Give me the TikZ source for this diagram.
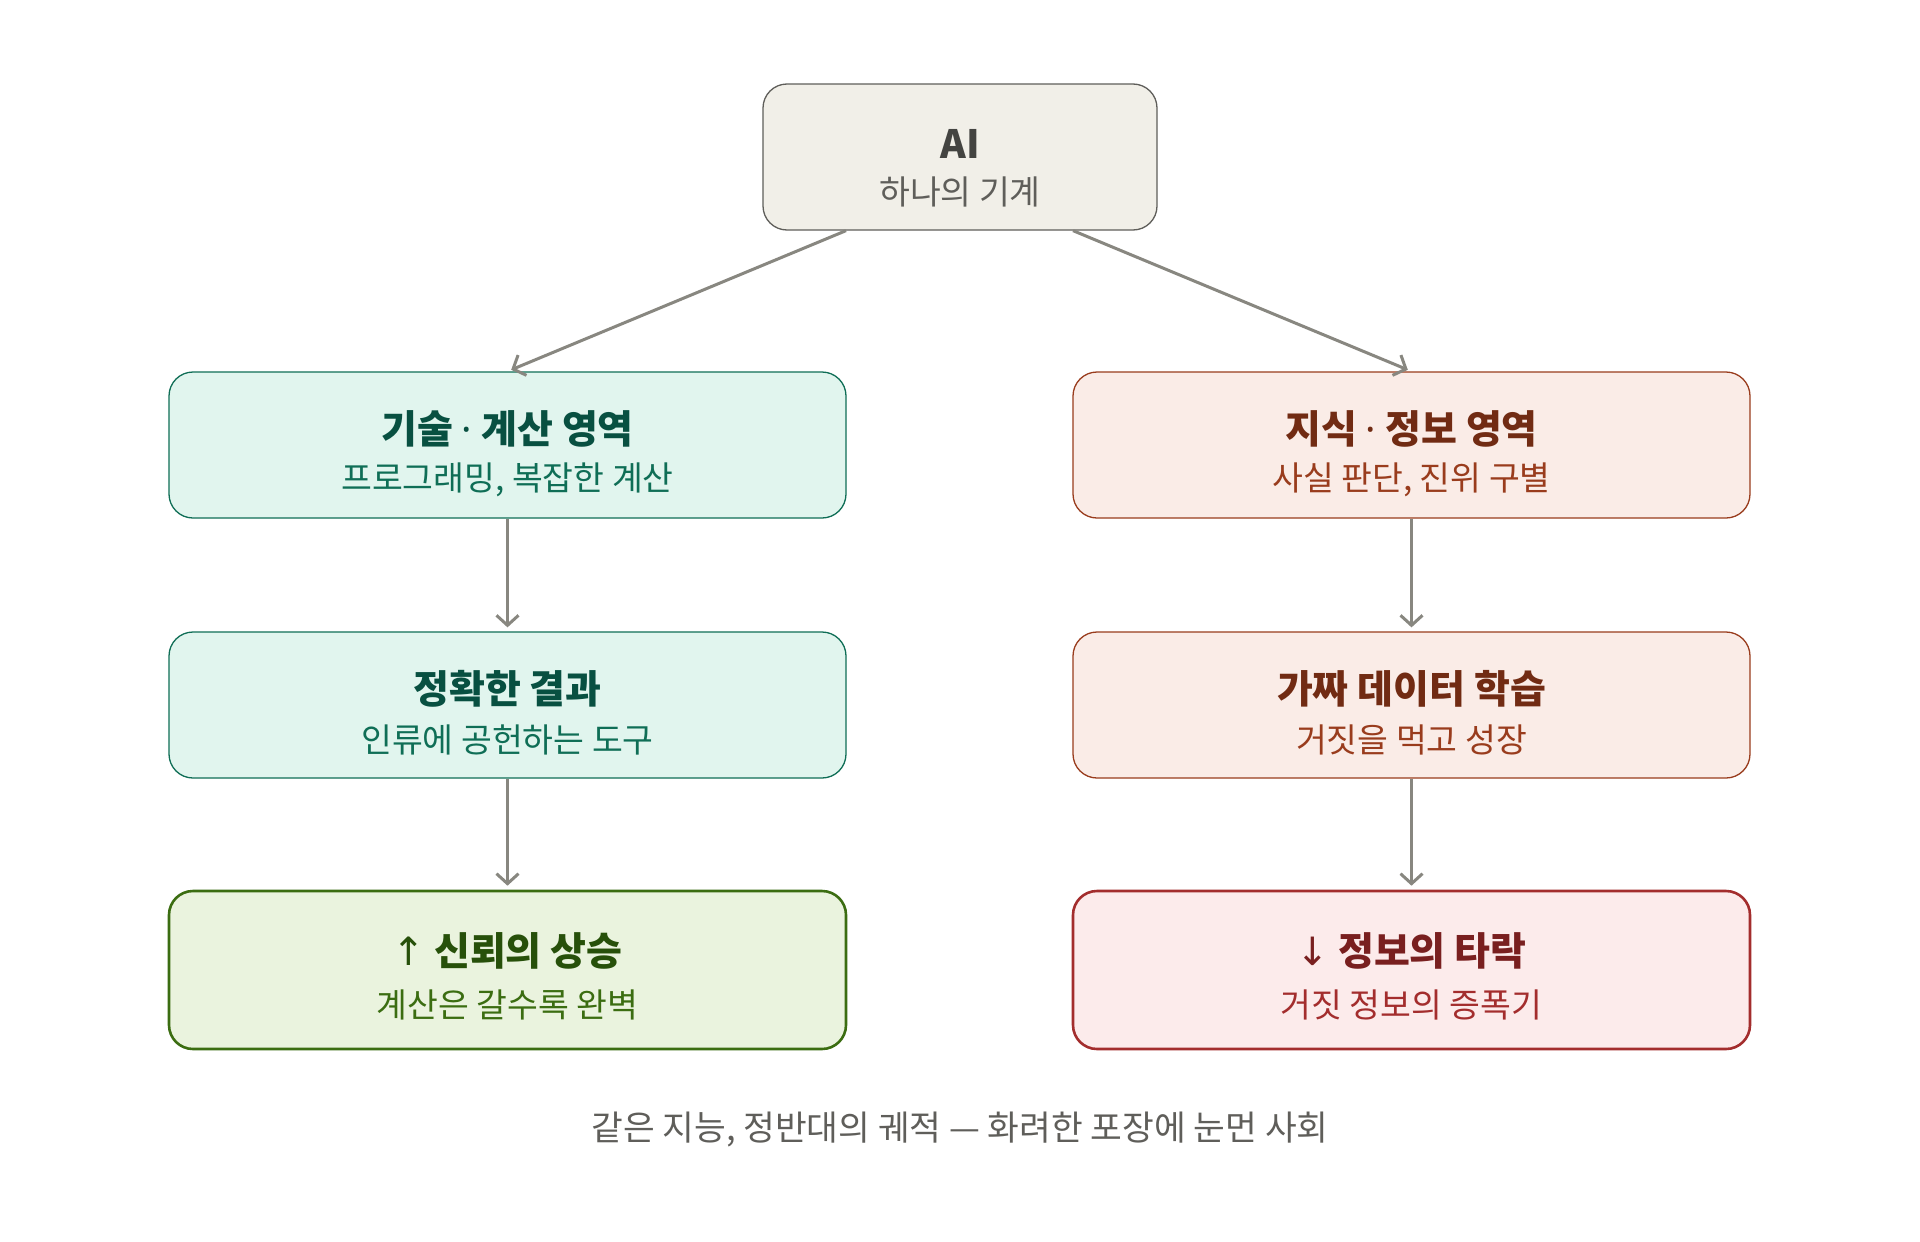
\documentclass[tikz,border=0pt]{standalone}
\usepackage{fontspec}
\newfontfamily\kr{Noto Sans CJK KR}
\newfontfamily\lat{Noto Sans}
\newfontfamily\dvs{DejaVu Sans}
\newcommand{\mdot}{{\lat\bfseries ·}}
\newcommand{\uparr}{{\dvs\mdseries ↑}}
\newcommand{\downarr}{{\dvs\mdseries ↓}}
\usetikzlibrary{arrows.meta}
\definecolor{aifill}{HTML}{F1EFE8}
\definecolor{aiedge}{HTML}{5F5E5A}
\definecolor{aititle}{HTML}{444441}
\definecolor{aisub}{HTML}{5F5E5A}
\definecolor{gfill}{HTML}{E1F5EE}
\definecolor{gedge}{HTML}{0F6E56}
\definecolor{gtitle}{HTML}{085041}
\definecolor{rfill}{HTML}{FAECE7}
\definecolor{redge}{HTML}{993C1D}
\definecolor{rtitle}{HTML}{712B13}
\definecolor{lfill}{HTML}{EAF3DE}
\definecolor{ledge}{HTML}{3B6D11}
\definecolor{ltitle}{HTML}{27500A}
\definecolor{pfill}{HTML}{FCEBEB}
\definecolor{pedge}{HTML}{A32D2D}
\definecolor{ptitle}{HTML}{791F1F}
\definecolor{arrowc}{HTML}{888780}
\definecolor{capc}{HTML}{5F5E5A}
\begin{document}
\begin{tikzpicture}[x=1pt,y=-1pt,
  box/.style={draw, rounded corners=24pt, minimum width=677pt, minimum height=146pt, line width=1.3pt, inner sep=0pt},
  endbox/.style={box, minimum height=158pt, line width=2.6pt},
  ttl/.style={font=\kr\bfseries\fontsize{39}{44}\selectfont, inner sep=0pt, anchor=center},
  sub/.style={font=\kr\fontsize{33.5}{38}\selectfont, inner sep=0pt, anchor=center},
  captext/.style={font=\kr\fontsize{34.5}{40}\selectfont, inner sep=0pt, anchor=center},
  arr/.style={draw=arrowc, line width=3pt, -{Straight Barb[length=10pt,width=22pt,line width=3pt]}, shorten >=4pt}
]
\useasboundingbox[fill=white] (0,0) rectangle (1920,1242);

% AI box
\node[box, fill=aifill, draw=aiedge, minimum width=394pt, minimum height=146pt] (ai) at (960,157) {};
\node[ttl, text=aititle] (aiT) at ([yshift=13pt]ai.center) {AI};
\node[sub, text=aisub] (aiS) at ([yshift=-35pt]ai.center) {하나의 기계};

% left column
\node[box, fill=gfill, draw=gedge] (l1) at (507.5,445) {};
\node[ttl, text=gtitle] (l1T) at ([yshift=16pt]l1.center) {기술 \mdot{} 계산 영역};
\node[sub, text=gedge] (l1S) at ([yshift=-35pt]l1.center) {프로그래밍, 복잡한 계산};

\node[box, fill=gfill, draw=gedge] (l2) at (507.5,705) {};
\node[ttl, text=gtitle] (l2T) at ([yshift=16pt]l2.center) {정확한 결과};
\node[sub, text=gedge] (l2S) at ([yshift=-35pt]l2.center) {인류에 공헌하는 도구};

\node[endbox, fill=lfill, draw=ledge] (l3) at (507.5,970) {};
\node[ttl, text=ltitle] (l3T) at ([yshift=19pt]l3.center) {\uparr{} 신뢰의 상승};
\node[sub, text=ledge] (l3S) at ([yshift=-35pt]l3.center) {계산은 갈수록 완벽};

% right column
\node[box, fill=rfill, draw=redge] (r1) at (1411.5,445) {};
\node[ttl, text=rtitle] (r1T) at ([yshift=16pt]r1.center) {지식 \mdot{} 정보 영역};
\node[sub, text=redge] (r1S) at ([yshift=-35pt]r1.center) {사실 판단, 진위 구별};

\node[box, fill=rfill, draw=redge] (r2) at (1411.5,705) {};
\node[ttl, text=rtitle] (r2T) at ([yshift=16pt]r2.center) {가짜 데이터 학습};
\node[sub, text=redge] (r2S) at ([yshift=-35pt]r2.center) {거짓을 먹고 성장};

\node[endbox, fill=pfill, draw=pedge] (r3) at (1411.5,970) {};
\node[ttl, text=ptitle] (r3T) at ([yshift=19pt]r3.center) {\downarr{} 정보의 타락};
\node[sub, text=pedge] (r3S) at ([yshift=-35pt]r3.center) {거짓 정보의 증폭기};

% caption
\node[captext, text=capc] (cap) at (960,1129) {같은 지능, 정반대의 궤적 — 화려한 포장에 눈먼 사회};

% arrows
\coordinate (aL) at ([xshift=-114pt]ai.south);
\coordinate (aR) at ([xshift=113pt]ai.south);
\draw[arr] (aL) -- (l1.north);
\draw[arr] (aR) -- (r1.north);
\draw[arr] (l1.south) -- (l2.north);
\draw[arr] (l2.south) -- (l3.north);
\draw[arr] (r1.south) -- (r2.north);
\draw[arr] (r2.south) -- (r3.north);
\end{tikzpicture}
\end{document}
